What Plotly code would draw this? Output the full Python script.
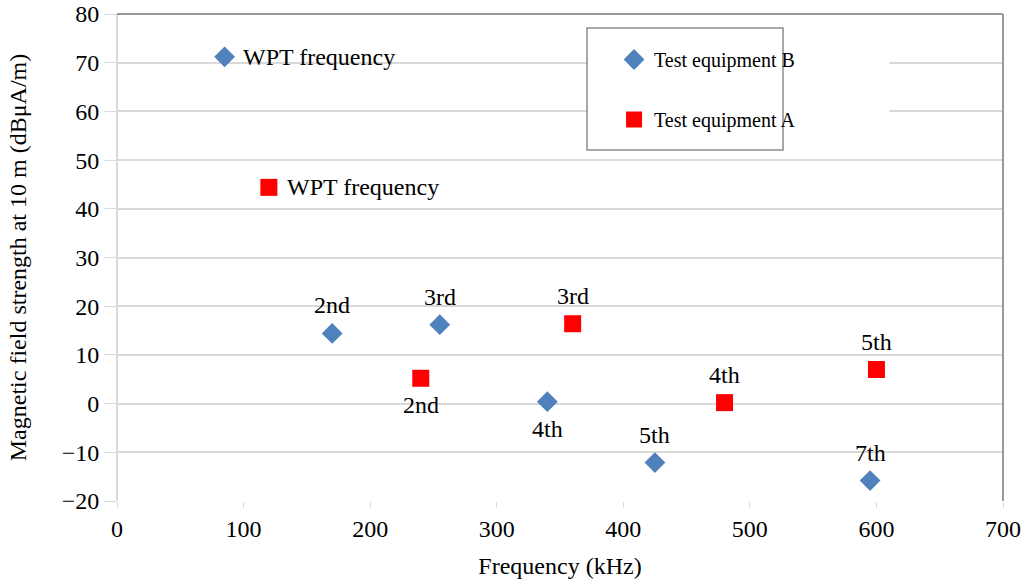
import plotly.graph_objects as go

# Test equipment B (diamonds)
b_freq = [85, 170, 255, 340, 425, 595]
b_level = [71.2, 14.4, 16.2, 0.4, -12.1, -15.8]
b_labels = ["WPT frequency", "2nd", "3rd", "4th", "5th", "7th"]
b_pos = ["right", "top", "top", "bottom", "top", "top"]

# Test equipment A (squares)
a_freq = [120, 240, 360, 480, 600]
a_level = [44.4, 5.2, 16.4, 0.2, 7.0]
a_labels = ["WPT frequency", "2nd", "3rd", "4th", "5th"]
a_pos = ["right", "bottom", "top", "top", "top"]

serif = "Liberation Serif, Times New Roman, serif"

fig = go.Figure()
fig.add_trace(go.Scatter(
    x=b_freq, y=b_level, mode="markers", name="Test equipment B",
    marker=dict(symbol="diamond", size=16, color="#4f81bd"),
    legendgroup="b",
))
fig.add_trace(go.Scatter(
    x=a_freq, y=a_level, mode="markers", name="Test equipment A",
    marker=dict(symbol="square", size=17, color="#ff0000"),
    legendgroup="a",
))

def add_labels(xs, ys, labels, pos):
    for x, y, t, p in zip(xs, ys, labels, pos):
        kw = dict(x=x, y=y, text=t, showarrow=False,
                  font=dict(family=serif, size=24, color="black"))
        if p == "right":
            kw.update(xanchor="left", yanchor="middle", xshift=16)
        elif p == "top":
            kw.update(xanchor="center", yanchor="bottom", yshift=13)
        else:
            kw.update(xanchor="center", yanchor="top", yshift=-12)
        fig.add_annotation(**kw)

add_labels(b_freq, b_level, b_labels, b_pos)
add_labels(a_freq, a_level, a_labels, a_pos)

fig.update_layout(
    width=1027, height=584,
    margin=dict(l=117, r=24, t=14, b=83),
    plot_bgcolor="white", paper_bgcolor="white",
    font=dict(family=serif, size=22, color="black"),
    legend=dict(
        x=0.561, y=0.9466, xanchor="left", yanchor="top",
        bgcolor="rgba(0,0,0,0)", borderwidth=0,
        font=dict(family=serif, size=20, color="black"),
        tracegroupgap=31,
    ),
    xaxis=dict(
        title=dict(text="Frequency (kHz)", font=dict(size=24), standoff=16),
        range=[0, 700], tickvals=[0, 100, 200, 300, 400, 500, 600, 700],
        showgrid=False, zeroline=False, automargin=False,
        showline=False, ticks="outside", ticklen=6, tickcolor="#d9d9d9",
        tickfont=dict(size=24),
    ),
    yaxis=dict(
        title=dict(text="Magnetic field strength at 10 m (dBμA/m)", font=dict(size=24), standoff=28),
        range=[-20, 80], dtick=10,
        showgrid=True, gridcolor="#d9d9d9", gridwidth=2,
        zeroline=False, showline=False, automargin=False,
        ticks="outside", ticklen=12, tickcolor="#d9d9d9",
        tickfont=dict(size=24),
        tickformat="d",
    ),
    showlegend=True,
)

# white patch beside the legend box and the legend frame
fig.add_shape(type="rect", xref="paper", yref="paper", x0=0.75, x1=0.872, y0=0.72, y1=0.975,
              fillcolor="white", line=dict(width=0), layer="above")
fig.add_shape(type="rect", xref="paper", yref="paper", x0=0.5305, x1=0.7517, y0=0.7207, y1=0.971,
              fillcolor="white", line=dict(color="#8c8c8c", width=1.5), layer="above")

# frame: light left axis line, darker top and right edges
fig.add_shape(type="line", xref="paper", yref="paper", x0=0, x1=0, y0=0, y1=1,
              line=dict(color="#d9d9d9", width=2))
fig.add_shape(type="line", xref="paper", yref="paper", x0=0, x1=1, y0=1, y1=1,
              line=dict(color="#999999", width=2))
fig.add_shape(type="line", xref="paper", yref="paper", x0=1, x1=1, y0=0, y1=1,
              line=dict(color="#999999", width=2))

fig.write_html("out.html", config={"displayModeBar": False},
               post_script="document.body.style.margin='0';")
